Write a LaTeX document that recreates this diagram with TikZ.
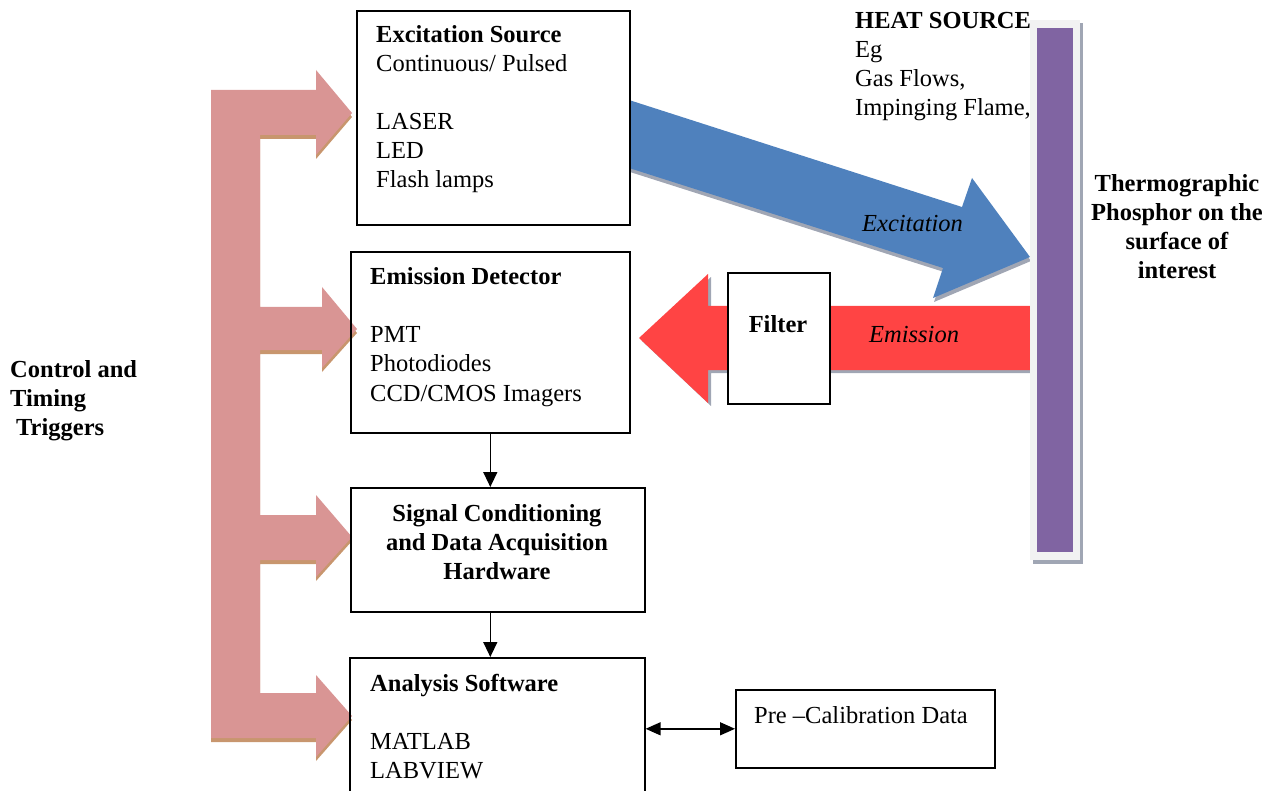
\documentclass[tikz,border=0pt]{standalone}
\usepackage{fontspec}
\setmainfont{Liberation Serif}
\usetikzlibrary{arrows.meta}
\definecolor{pinkc}{RGB}{217,149,148}
\definecolor{pinksh}{RGB}{200,150,110}
\definecolor{bluec}{RGB}{79,129,189}
\definecolor{redc}{RGB}{255,68,68}
\definecolor{purplec}{RGB}{128,100,162}
\definecolor{graysh}{RGB}{160,166,180}
\definecolor{lightg}{RGB}{242,242,242}
\newcommand\leftlines[1]{\begin{tabular}[t]{@{}l@{}}#1\end{tabular}}
\newcommand\centerlines[1]{\begin{tabular}[t]{@{}c@{}}#1\end{tabular}}
\begin{document}
\begin{tikzpicture}[x=1pt,y=-1pt,
  boxst/.style={draw=black, line width=1.6pt, inner sep=0pt, anchor=north west},
  txt/.style={inner sep=0pt, anchor=base west},
  ctxt/.style={inner sep=0pt, anchor=base},
  conn/.style={line width=1.4pt, -{Triangle[length=15pt,width=14pt]}},
  dconn/.style={line width=1.4pt, {Triangle[length=15pt,width=13pt]}-{Triangle[length=15pt,width=13pt]}}]
\fontsize{24.5}{29}\selectfont
\useasboundingbox (0,0) rectangle (1276,791);
\clip (0,0) rectangle (1276,791);

% heat source text (partly covered by the bar)
\node[txt, font=\bfseries] (heat) at (855,29) {HEAT SOURCE};
\node[txt] (heatlist) at (855,58) {\leftlines{Eg\\Gas Flows,\\Impinging Flame,}};

% control and timing arrows
\foreach \sx/\sy/\c in {0/4/pinksh, 0/0/pinkc} {
  \fill[\c, shift={(\sx,\sy)}] (211,90) -- (316,90) -- (316,70) -- (352,113) -- (316,155) -- (316,135)
    -- (260,135) -- (260,307) -- (322,307) -- (322,287) -- (357,329) -- (322,368) -- (322,350)
    -- (260,350) -- (260,515) -- (316,515) -- (316,495) -- (352,537) -- (316,577) -- (316,560)
    -- (260,560) -- (260,693) -- (316,693) -- (316,675) -- (352,716) -- (316,757) -- (316,738)
    -- (211,738) -- cycle;
}

% excitation arrow
\foreach \sx/\sy/\c in {1/4/graysh, 0/0/bluec} {
  \fill[\c, shift={(\sx,\sy)}] (629,100) -- (962,207) -- (972,178) -- (1030,257) -- (933,298)
    -- (943,268) -- (629,168) -- cycle;
}
% emission arrow
\foreach \sx/\sy/\c in {3/3/graysh, 0/0/redc} {
  \fill[\c, shift={(\sx,\sy)}] (1030,306) -- (708,306) -- (708,274) -- (639,338) -- (708,403)
    -- (708,370) -- (1030,370) -- cycle;
}

% phosphor bar
\fill[graysh] (1033,23) rectangle (1083,564);
\fill[lightg] (1030,20) rectangle (1080,560);
\fill[purplec] (1037,28) rectangle (1073,552);

% boxes
\node[boxst, minimum width=273pt, minimum height=214pt] (exc) at (356,10) {};
\node[boxst, minimum width=279pt, minimum height=181pt] (emdet) at (350,251) {};
\node[boxst, minimum width=294pt, minimum height=124pt] (sig) at (350,487) {};
\node[boxst, minimum width=295pt, minimum height=160pt] (ana) at (349,657) {};
\node[boxst, minimum width=259pt, minimum height=78pt] (pre) at (735,689) {};
\node[boxst, fill=white, minimum width=102pt, minimum height=131pt] (filt) at (727,272) {};

% box texts
\node[txt] (exct) at (376,43) {\leftlines{\textbf{Excitation Source}\\Continuous/ Pulsed\\ \\LASER\\LED\\Flash lamps}};
\node[txt] (emdett) at (370,285) {\leftlines{\textbf{Emission Detector}\\ \\PMT\\Photodiodes\\CCD/CMOS Imagers}};
\node[ctxt, font=\bfseries] (sigt) at (497,521) {\centerlines{Signal Conditioning\\and Data Acquisition\\Hardware}};
\node[txt] (anat) at (370,691) {\leftlines{\textbf{Analysis Software}\\ \\MATLAB\\LABVIEW}};
\node[txt] (pret) at (754,723) {Pre –Calibration Data};
\node[ctxt, font=\bfseries] (filtt) at (778,333) {Filter};
\node[txt, font=\itshape] (exlab) at (862,232) {Excitation};
\node[txt, font=\itshape] (emlab) at (869,342) {Emission};
\node[ctxt, font=\bfseries] (thermo) at (1177,192) {\centerlines{Thermographic\\Phosphor on the\\surface of\\interest}};
\node[txt, font=\bfseries] (ctrl) at (10,377) {\leftlines{Control and\\Timing\\\hspace{6pt}Triggers}};

% connectors
\draw[conn] (emdet.south) -- (emdet.south |- sig.north);
\draw[conn] (sig.south -| emdet.south) -- (ana.north -| emdet.south);
\draw[dconn] (ana.east |- pre.west) -- (pre.west);
\end{tikzpicture}
\end{document}
